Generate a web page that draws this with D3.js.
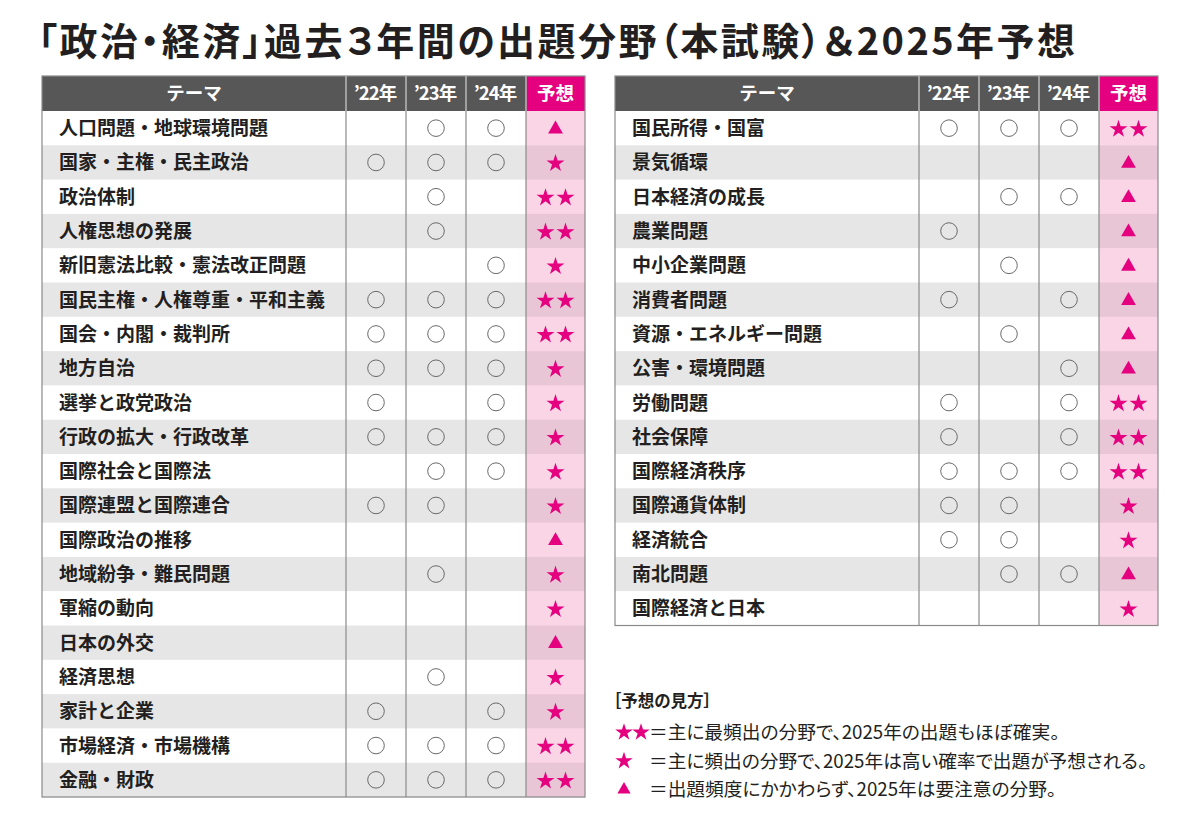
<!DOCTYPE html>
<html><head><meta charset="utf-8">
<script src="https://cdn.jsdelivr.net/npm/d3@7"></script>
<style>
body{margin:0;background:#fff;}
svg{display:block;font-family:"Noto Sans CJK JP","Noto Sans",sans-serif;}
.palt{font-feature-settings:"palt" 1;}
</style></head>
<body><svg id="chart" width="1199" height="830"></svg>
<script>
const titleText = "「政治・経済」過去３年間の出題分野（本試験）＆2025年予想";
const columns = ["テーマ", "’22年", "’23年", "’24年", "予想"];
// left table
const leftThemes = ["人口問題・地球環境問題","国家・主権・民主政治","政治体制","人権思想の発展","新旧憲法比較・憲法改正問題","国民主権・人権尊重・平和主義","国会・内閣・裁判所","地方自治","選挙と政党政治","行政の拡大・行政改革","国際社会と国際法","国際連盟と国際連合","国際政治の推移","地域紛争・難民問題","軍縮の動向","日本の外交","経済思想","家計と企業","市場経済・市場機構","金融・財政"];
const left22 = [0,1,0,0,0,1,1,1,1,1,0,1,0,0,0,0,0,1,1,1];
const left23 = [1,1,1,1,0,1,1,1,0,1,1,1,0,1,0,0,1,0,1,1];
const left24 = [1,1,0,0,1,1,1,1,1,1,1,0,0,0,0,0,0,1,1,1];
const leftForecast = ["▲","★","★★","★★","★","★★","★★","★","★","★","★","★","▲","★","★","▲","★","★","★★","★★"];
// right table
const rightThemes = ["国民所得・国富","景気循環","日本経済の成長","農業問題","中小企業問題","消費者問題","資源・エネルギー問題","公害・環境問題","労働問題","社会保障","国際経済秩序","国際通貨体制","経済統合","南北問題","国際経済と日本"];
const right22 = [1,0,0,1,0,1,0,0,1,1,1,1,1,0,0];
const right23 = [1,0,1,0,1,0,1,0,0,0,1,1,1,1,0];
const right24 = [1,0,1,0,0,1,0,1,1,1,1,0,0,1,0];
const rightForecast = ["★★","▲","▲","▲","▲","▲","▲","▲","★★","★★","★★","★","★","▲","★"];
// legend
const legendTitle = "［予想の見方］";
const legendSymbols = ["★★","★","▲"];
const legendTexts = ["＝主に最頻出の分野で、2025年の出題もほぼ確実。","＝主に頻出の分野で、2025年は高い確率で出題が予想される。","＝出題頻度にかかわらず、2025年は要注意の分野。"];

const svg = d3.select("#chart");
const MAG = "#e4007f", DARK = "#231f20";

svg.append("text").attr("class","palt").attr("x", 38).attr("y", 55)
  .attr("font-size", 38).attr("font-weight", 700).attr("fill", DARK)
  .attr("textLength", 1037).attr("lengthAdjust", "spacing")
  .text(titleText);

const rowH = 34.3, headTop = 76, headH = 35;
const starPath = d3.symbol(d3.symbolStar, 100)();
const triPath = d3.symbol(d3.symbolTriangle, 95)();

function drawTable(x0, themes, y22, y23, y24, fc) {
  const g = svg.append("g");
  const colEdges = [x0, x0+304, x0+364, x0+424, x0+484, x0+543];
  const xCol = d3.scaleOrdinal().domain(columns).range(colEdges.slice(0,5));
  const wCol = d3.scaleOrdinal().domain(columns).range(colEdges.slice(1).map((e,i)=>e-colEdges[i]));
  const y = d3.scaleBand().domain(d3.range(themes.length)).range([headTop+headH, headTop+headH+rowH*themes.length]);
  const bottom = headTop+headH+rowH*themes.length;
  // header
  columns.forEach((c,i)=>{
    g.append("rect").attr("x", xCol(c)).attr("y", headTop).attr("width", wCol(c)).attr("height", headH)
      .attr("fill", i===4 ? MAG : "#585757");
    g.append("text").attr("x", xCol(c)+wCol(c)/2 + (i>0&&i<4?-1:0)).attr("y", headTop+headH/2+6.5)
      .attr("text-anchor","middle").attr("font-size", 18.5).attr("font-weight",700).attr("fill","#fff")
      .attr("letter-spacing", i>0&&i<4 ? -1 : 0)
      .text(c);
  });
  // rows
  const rows = g.selectAll("g.row").data(themes.map((t,i)=>({t,i,a:y22[i],b:y23[i],c:y24[i],f:fc[i]})))
    .join("g").attr("class","row").attr("transform", d=>`translate(0,${y(d.i)})`);
  rows.append("rect").attr("x", x0).attr("width", colEdges[4]-x0).attr("height", rowH+0.5)
    .attr("fill", d=>d.i%2 ? "#e6e6e6" : "#fff");
  rows.append("rect").attr("x", colEdges[4]).attr("width", colEdges[5]-colEdges[4]).attr("height", rowH+0.5)
    .attr("fill", d=>d.i%2 ? "#e9c6d6" : "#fad5e6");
  rows.append("text").attr("x", x0+17).attr("y", rowH/2+7).attr("font-size", 19).attr("font-weight",700)
    .attr("fill", DARK).text(d=>d.t);
  [["’22年","a"],["’23年","b"],["’24年","c"]].forEach(([c,k])=>{
    rows.filter(d=>d[k]).append("circle").attr("cx", xCol(c)+wCol(c)/2).attr("cy", rowH/2)
      .attr("r", 8.3).attr("fill","none").attr("stroke","#6a6a6a").attr("stroke-width",1);
  });
  const fx = xCol("予想")+wCol("予想")/2;
  rows.each(function(d){
    const s = d3.select(this);
    if (d.f === "▲") s.append("path").attr("d", triPath).attr("fill", MAG).attr("transform", `translate(${fx},${rowH/2+1})`);
    else if (d.f === "★") s.append("path").attr("d", starPath).attr("fill", MAG).attr("transform", `translate(${fx},${rowH/2+1})`);
    else [-10,10].forEach(o=>s.append("path").attr("d", starPath).attr("fill", MAG).attr("transform", `translate(${fx+o},${rowH/2+1})`));
  });
  // vertical lines
  colEdges.slice(1,5).forEach(e=>g.append("line").attr("x1",e).attr("x2",e).attr("y1",headTop).attr("y2",bottom)
    .attr("stroke","#8a8a8a").attr("stroke-width",1.2));
  g.append("rect").attr("x",x0).attr("y",headTop).attr("width",colEdges[5]-x0).attr("height",bottom-headTop)
    .attr("fill","none").attr("stroke","#8a8a8a").attr("stroke-width",1.2);
  colEdges.slice(1,5).forEach(e=>g.append("line").attr("x1",e).attr("x2",e).attr("y1",headTop).attr("y2",headTop+headH)
    .attr("stroke","#bdbdbd").attr("stroke-width",1.2));
}
drawTable(42, leftThemes, left22, left23, left24, leftForecast);
drawTable(615, rightThemes, right22, right23, right24, rightForecast);

// legend
const lg = svg.append("g");
lg.append("text").attr("class","palt").attr("x", 613).attr("y", 707).attr("font-size", 16.5).attr("font-weight",700).attr("fill",DARK).text(legendTitle);
const ly = d3.scaleBand().domain(d3.range(3)).range([718, 804]);
legendSymbols.forEach((s,i)=>{
  const cy = ly(i)+ly.bandwidth()/2;
  if (s==="▲") lg.append("path").attr("d", d3.symbol(d3.symbolTriangle, 75)()).attr("fill",MAG).attr("transform",`translate(624,${cy})`);
  else if (s==="★") lg.append("path").attr("d", d3.symbol(d3.symbolStar, 95)()).attr("fill",MAG).attr("transform",`translate(624,${cy})`);
  else [624,641].forEach(x=>lg.append("path").attr("d", d3.symbol(d3.symbolStar, 95)()).attr("fill",MAG).attr("transform",`translate(${x},${cy})`));
  lg.append("text").attr("class","palt").attr("x", 649).attr("y", cy+6.5).attr("font-size", 18.7).attr("fill",DARK).text(legendTexts[i]);
});
</script></body></html>
